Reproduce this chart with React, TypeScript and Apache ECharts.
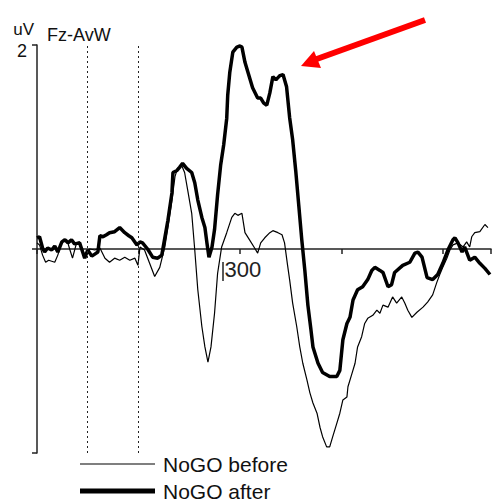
import React, { useEffect, useRef } from "react";
import * as echarts from "echarts";

const seriesNames = ["NoGO before", "NoGO after"];
const channelLabel = "Fz-AvW";
const unitLabel = "uV";
const xLabeledTicks = [300];
const yLabeledTicks = [2];
const stimulusMarks = [0, 100];

// NoGO before (thin)
const beforeTime = [
  -100, -95, -89, -83, -77, -65, -59, -51, -41, -35, -30, -22, -16, -6, 4, 14, 24, 34, 43, 53,
  63, 73, 83, 93, 99, 103, 112, 122, 132, 142, 152, 158, 166, 172, 177, 185, 191, 197, 205, 211,
  217, 225, 231, 237, 243, 250, 256, 264, 274, 284, 290, 296, 304, 310, 319, 329, 335, 341, 349, 359,
  365, 375, 383, 388, 394, 398, 404, 412, 418, 424, 432, 438, 444, 452, 458, 463, 471, 477, 483, 491,
  497, 503, 511, 513, 521, 527, 532, 540, 546, 552, 562, 570, 576, 582, 592, 601, 609, 619, 625, 631,
  639, 649, 661, 670, 680, 688, 694, 700, 708, 714, 720, 730, 740, 747, 753, 757, 763, 773, 783, 789,
];
const beforeUv = [
  0.06, 0.04, -0.06, -0.13, -0.11, -0.13, -0.06, 0.07, 0.09, -0.01, -0.09, 0.06, 0.07, -0.06, 0, -0.01, 0.01, -0.09, -0.13, -0.09,
  -0.11, -0.08, -0.11, -0.09, -0.16, 0.02, -0.01, -0.14, -0.27, -0.18, 0.02, 0.21, 0.48, 0.71, 0.79, 0.82, 0.75, 0.58, 0.35, -0.01,
  -0.4, -0.76, -0.96, -1.11, -0.96, -0.63, -0.24, 0.02, 0.16, 0.31, 0.35, 0.33, 0.35, 0.16, 0.09, 0.01, -0.04, 0.06, 0.11, 0.16,
  0.18, 0.16, 0.14, 0.06, -0.16, -0.3, -0.53, -0.76, -0.96, -1.12, -1.28, -1.41, -1.51, -1.61, -1.75, -1.84, -1.94, -1.94, -1.84, -1.71,
  -1.61, -1.48, -1.45, -1.35, -1.22, -1.12, -0.96, -0.86, -0.73, -0.68, -0.65, -0.6, -0.63, -0.55, -0.57, -0.47, -0.53, -0.47, -0.53, -0.6,
  -0.67, -0.62, -0.57, -0.52, -0.45, -0.33, -0.25, -0.18, -0.09, -0.01, 0.04, 0.06, 0.02, 0.07, 0.02, 0.12, 0.16, 0.17, 0.24, 0.21,
];

// NoGO after (thick)
const afterTime = [
  -100, -95, -89, -85, -79, -71, -65, -59, -51, -45, -39, -32, -26, -16, -10, -6, 0, 8, 14, 20,
  24, 30, 37, 43, 53, 63, 73, 81, 87, 97, 103, 108, 118, 128, 138, 146, 152, 158, 166, 168,
  176, 181, 187, 195, 205, 211, 217, 225, 231, 235, 239, 245, 250, 256, 262, 268, 274, 276, 280, 286,
  294, 300, 304, 310, 316, 325, 335, 341, 347, 353, 359, 365, 371, 375, 379, 385, 392, 398, 404, 410,
  416, 422, 428, 434, 440, 444, 454, 463, 477, 491, 497, 503, 511, 517, 523, 532, 542, 552, 560, 566,
  576, 582, 592, 599, 605, 621, 635, 645, 651, 659, 669, 680, 690, 700, 710, 720, 724, 730, 738, 743,
  753, 763, 773, 783, 793,
];
const afterUv = [
  0.11, 0.12, 0.01, -0.03, 0.01, -0.01, 0.03, -0.03, 0.07, 0.09, 0.06, 0.09, 0.05, 0.06, -0.03, -0.09, -0.01, -0.07, -0.05, -0.03,
  0.13, 0.12, 0.14, 0.16, 0.17, 0.21, 0.16, 0.13, 0.11, 0.04, 0.07, 0.06, 0, -0.08, -0.09, -0.06, 0.11, 0.28, 0.55, 0.75,
  0.77, 0.8, 0.84, 0.79, 0.75, 0.65, 0.48, 0.31, 0.21, 0.06, -0.08, 0.02, 0.19, 0.53, 0.82, 1.02, 1.28, 1.51, 1.73, 1.93,
  1.98, 1.99, 1.98, 1.83, 1.73, 1.58, 1.48, 1.48, 1.43, 1.41, 1.53, 1.69, 1.66, 1.68, 1.7, 1.71, 1.59, 1.29, 1.07, 0.77,
  0.43, 0.09, -0.21, -0.55, -0.79, -0.96, -1.12, -1.21, -1.25, -1.25, -1.19, -0.89, -0.73, -0.67, -0.5, -0.4, -0.37, -0.3, -0.21, -0.18,
  -0.21, -0.23, -0.37, -0.35, -0.23, -0.16, -0.13, -0.04, -0.03, -0.08, -0.28, -0.3, -0.25, -0.14, -0.01, 0.09, 0.11, 0.06, -0.03, 0.02,
  -0.11, -0.08, -0.14, -0.19, -0.25,
];

const FONT = "'Liberation Sans', Arial, sans-serif";
const AXIS_COLOR = "#222";
const GRID_TOP = 45;
const GRID_BOTTOM = 48;
const CHART_H = 501;

export default function App() {
  const ref = useRef<HTMLDivElement>(null);

  useEffect(() => {
    if (!ref.current) return;
    const chart = echarts.init(ref.current, null, { renderer: "svg" });

    const beforeData = beforeTime.map((t, i) => [t, beforeUv[i]]);
    const afterData = afterTime.map((t, i) => [t, afterUv[i]]);

    // x axis sits on the zero line: half of the plot height above the bottom edge
    const plotH = CHART_H - GRID_TOP - GRID_BOTTOM;
    const xOffset = -plotH / 2;

    chart.setOption({
      animation: false,
      backgroundColor: "#fff",
      textStyle: { fontFamily: FONT },
      title: {
        text: channelLabel,
        left: 47,
        top: 26,
        textStyle: { fontFamily: FONT, fontSize: 18, fontWeight: "normal", color: "#111" },
        padding: 0,
      },
      grid: { left: 37, right: 6, top: GRID_TOP, bottom: GRID_BOTTOM, containLabel: false },
      xAxis: {
        type: "value",
        min: -100,
        max: 795,
        interval: 200,
        position: "bottom",
        offset: xOffset,
        axisLine: { onZero: false, lineStyle: { color: AXIS_COLOR, width: 1.5 } },
        axisTick: { show: true, length: 5, lineStyle: { color: AXIS_COLOR, width: 1.5 } },
        axisLabel: {
          fontFamily: FONT,
          fontSize: 22,
          color: "#222",
          margin: 9,
          padding: [0, 0, 0, 6],
          formatter: (v: number) => (xLabeledTicks.includes(v) ? String(v) : ""),
        },
        splitLine: { show: false },
      },
      yAxis: {
        type: "value",
        min: -2,
        max: 2,
        interval: 2,
        name: unitLabel,
        nameLocation: "end",
        nameGap: 7,
        nameTextStyle: {
          fontFamily: FONT,
          fontSize: 17,
          color: "#111",
          align: "right",
          verticalAlign: "bottom",
          padding: [0, 3, 0, 0],
        },
        axisLine: { show: true, onZero: false, lineStyle: { color: AXIS_COLOR, width: 1.5 } },
        axisTick: { show: true, length: 5, lineStyle: { color: AXIS_COLOR, width: 1.5 } },
        axisLabel: {
          fontFamily: FONT,
          fontSize: 18,
          color: "#111",
          margin: 10,
          verticalAlign: "top",
          lineHeight: 12,
          formatter: (v: number) => (yLabeledTicks.includes(v) ? String(v) : ""),
        },
        splitLine: { show: false },
      },
      series: [
        {
          name: seriesNames[0],
          type: "line",
          data: beforeData,
          showSymbol: false,
          symbol: "none",
          lineStyle: { color: "#000", width: 1.2 },
          z: 2,
          markLine: {
            silent: true,
            symbol: ["none", "none"],
            label: { show: false },
            lineStyle: { type: [2, 3], color: "#222", width: 1 },
            data: stimulusMarks.map((m) => ({ xAxis: m })),
          },
        },
        {
          name: seriesNames[1],
          type: "line",
          data: afterData,
          showSymbol: false,
          symbol: "none",
          lineStyle: { color: "#000", width: 3.5 },
          z: 3,
        },
      ],
      graphic: [
        { type: "line", shape: { x1: 223, y1: 262, x2: 223, y2: 281 }, style: { stroke: AXIS_COLOR, lineWidth: 1.5 } },
        { type: "line", shape: { x1: 80, y1: 464, x2: 155, y2: 464 }, style: { stroke: "#000", lineWidth: 1.2 } },
        {
          type: "text",
          x: 163,
          y: 464,
          style: { text: seriesNames[0], fontFamily: FONT, fontSize: 21, fill: "#111", verticalAlign: "middle" },
        },
        { type: "line", shape: { x1: 80, y1: 491, x2: 155, y2: 491 }, style: { stroke: "#000", lineWidth: 5 } },
        {
          type: "text",
          x: 163,
          y: 491,
          style: { text: seriesNames[1], fontFamily: FONT, fontSize: 21, fill: "#111", verticalAlign: "middle" },
        },
        { type: "line", shape: { x1: 425, y1: 20, x2: 314, y2: 60 }, style: { stroke: "#ff0000", lineWidth: 6 } },
        {
          type: "polygon",
          shape: { points: [[301, 66], [314, 51], [321, 68]] },
          style: { fill: "#ff0000" },
        },
      ],
    });

    return () => chart.dispose();
  }, []);

  return (
    <div
      ref={ref}
      style={{ position: "fixed", left: 0, top: 0, width: 497, height: 501, background: "#fff" }}
    />
  );
}
